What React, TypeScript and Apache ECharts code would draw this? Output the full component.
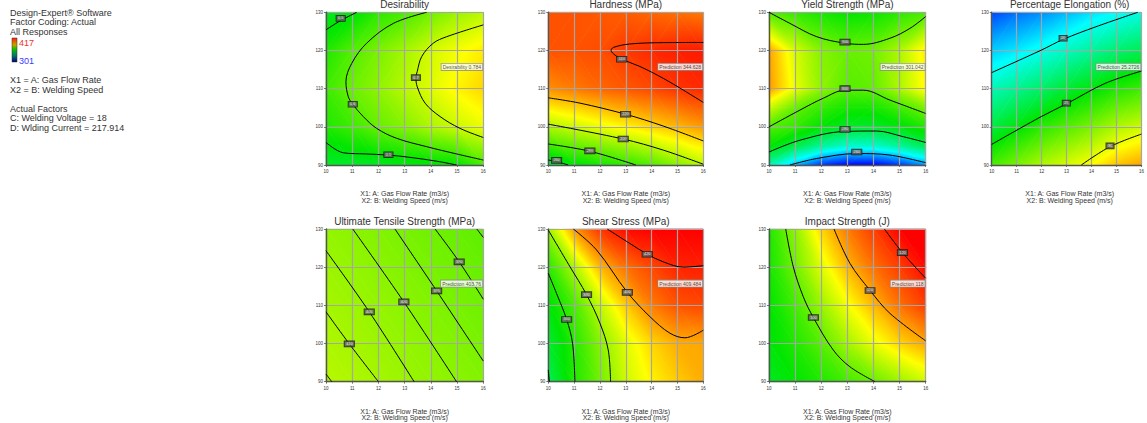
import React, { useEffect, useRef } from 'react';
import * as echarts from 'echarts';

const FONT = '"Liberation Sans", Arial, Helvetica, sans-serif';

// ---------- data ----------
const gridX = [10, 11, 12, 13, 14, 15, 16];
const gridY = [90, 100, 110, 120, 130];
const yieldGridY = [90, 95, 100, 105, 110, 120, 130];

const panelTitles = [
  'Desirability',
  'Hardness (MPa)',
  'Yield Strength (MPa)',
  'Percentage Elongation (%)',
  'Ultimate Tensile Strength (MPa)',
  'Shear Stress (MPa)',
  'Impact Strength (J)',
];
const predictionTexts = [
  'Desirability 0.784',
  'Prediction 344.628',
  'Prediction 301.042',
  'Prediction 25.2726',
  'Prediction 403.76',
  'Prediction 409.484',
  'Prediction 118',
];
const predictionAt = [16, 115.7];
const axisNames = ['X1: A: Gas Flow Rate (m3/s)', 'X2: B: Welding Speed (m/s)'];
const infoLines = [
  'Design-Expert\u00ae Software',
  'Factor Coding: Actual',
  'All Responses',
  'X1 = A: Gas Flow Rate',
  'X2 = B: Welding Speed',
  'Actual Factors',
  'C: Welding Voltage = 18',
  'D: Wlding Current = 217.914',
];
const legendHigh = '417';
const legendLow = '301';

// response surfaces, scaled to each panel's colour range (0 = low, 1 = high); rows from y = 90 upward
const desirabilityField = [
  [0.46, 0.46, 0.47, 0.48, 0.49, 0.5, 0.57],
  [0.53, 0.56, 0.6, 0.63, 0.67, 0.7, 0.73],
  [0.56, 0.605, 0.64, 0.68, 0.72, 0.76, 0.79],
  [0.53, 0.58, 0.62, 0.66, 0.705, 0.74, 0.77],
  [0.47, 0.49, 0.54, 0.57, 0.61, 0.65, 0.68],
];
const hardnessField = [
  [0.44, 0.49, 0.52, 0.545, 0.58, 0.63, 0.68],
  [0.67, 0.7, 0.73, 0.76, 0.79, 0.82, 0.85],
  [0.86, 0.88, 0.9, 0.915, 0.93, 0.95, 0.96],
  [0.92, 0.92, 0.925, 0.945, 0.96, 0.97, 0.975],
  [0.92, 0.92, 0.915, 0.91, 0.9, 0.89, 0.88],
];
const yieldField = [
  [0.33, 0.18, 0.05, 0, 0, 0.05, 0.15],
  [0.5, 0.43, 0.35, 0.3, 0.3, 0.35, 0.42],
  [0.58, 0.55, 0.5, 0.46, 0.46, 0.49, 0.53],
  [0.7, 0.6, 0.55, 0.52, 0.52, 0.56, 0.62],
  [0.85, 0.73, 0.64, 0.585, 0.595, 0.67, 0.76],
  [0.84, 0.71, 0.63, 0.6, 0.61, 0.67, 0.77],
  [0.58, 0.55, 0.52, 0.5, 0.51, 0.54, 0.57],
];
const elongationField = [
  [0.57, 0.62, 0.67, 0.71, 0.75, 0.81, 0.84],
  [0.44, 0.49, 0.54, 0.58, 0.62, 0.67, 0.7],
  [0.32, 0.36, 0.4, 0.45, 0.49, 0.53, 0.56],
  [0.2, 0.23, 0.27, 0.31, 0.35, 0.39, 0.42],
  [0.07, 0.11, 0.14, 0.18, 0.22, 0.25, 0.28],
];
const utsField = [
  [0.68, 0.671, 0.662, 0.653, 0.644, 0.636, 0.627],
  [0.671, 0.662, 0.653, 0.645, 0.636, 0.627, 0.618],
  [0.662, 0.653, 0.645, 0.636, 0.627, 0.618, 0.609],
  [0.654, 0.645, 0.636, 0.627, 0.618, 0.609, 0.6],
  [0.645, 0.636, 0.627, 0.618, 0.609, 0.6, 0.592],
];
const shearField = [
  [0.42, 0.53, 0.61, 0.7, 0.76, 0.8, 0.83],
  [0.45, 0.535, 0.63, 0.72, 0.79, 0.83, 0.835],
  [0.49, 0.57, 0.69, 0.8, 0.88, 0.92, 0.93],
  [0.54, 0.67, 0.82, 0.89, 0.93, 0.965, 0.97],
  [0.65, 0.85, 0.95, 0.99, 1.0, 1.0, 1.0],
];
const impactField = [
  [0.47, 0.5, 0.53, 0.565, 0.6, 0.65, 0.7],
  [0.49, 0.53, 0.585, 0.66, 0.73, 0.79, 0.835],
  [0.5, 0.565, 0.65, 0.74, 0.82, 0.89, 0.94],
  [0.52, 0.61, 0.72, 0.82, 0.89, 0.94, 0.99],
  [0.53, 0.64, 0.79, 0.88, 0.94, 1.0, 1.02],
];

// contour lines, [x1, x2] points
const desirabilityContours = [
  [[10, 125.4], [10.55, 127.8], [11.17, 130]],
  [[13.84, 130], [12.57, 127.1], [11.55, 121.9], [10.98, 116.6], [10.76, 111.8], [10.85, 107.9], [11.02, 105.9], [11.42, 102.7], [11.93, 99.6], [12.69, 97.0], [13.84, 94.8], [14.98, 92.9], [16, 91.3]],
  [[16, 126.7], [14.6, 123.6], [14.09, 121.9], [13.65, 118.4], [13.48, 114.5], [13.43, 112.9], [13.48, 110.5], [13.78, 106.2], [14.35, 102.7], [15.11, 99.6], [16, 97.2]],
  [[10, 95.9], [10.66, 93.2], [11.5, 92.9], [12.38, 92.6], [13.2, 92.0], [14.22, 91.0], [14.98, 90]],
];
const desirabilityLabels = [[10.56, 128.4, '0.5'], [11.02, 105.9, '0.6'], [13.43, 112.9, '0.7'], [12.38, 92.7, '0.5']];

const hardnessContours = [
  [[16, 122.1], [14.45, 122.05], [13.16, 121.7], [12.52, 120.8], [12.43, 120], [12.58, 118.8], [12.84, 117.7], [13.55, 115.8], [14.45, 112.7], [15.23, 109.6], [16, 106.4]],
  [[10, 107.6], [11.23, 106.2], [12.99, 103.3], [14.45, 100.2], [16, 96.3]],
  [[10, 100.7], [12.9, 96.8], [14.45, 93.9], [16, 90.2]],
  [[10, 95.5], [11.61, 93.6], [13.39, 90]],
  [[10, 91.3], [10.32, 90.9], [10.77, 90]],
];
const hardnessLabels = [[12.84, 117.7, '340'], [12.99, 103.3, '320'], [12.9, 96.8, '300'], [11.61, 93.7, '280'], [10.32, 91.2, '260']];

const yieldContours = [
  [[10, 130], [10.8, 127.1], [11.83, 123.6], [12.91, 121.9], [13.61, 121.6], [14.63, 123.2], [15.4, 125.8], [16, 128.9]],
  [[10, 100], [11.19, 104.4], [12.08, 107.5], [12.91, 109.6], [13.61, 109.6], [14.63, 107.0], [16, 103.5]],
  [[10, 93.4], [11.19, 96.5], [12.91, 98.8], [14.12, 98.9], [15.15, 97.4], [16, 95.9]],
  [[10.8, 90], [11.83, 91.7], [13.36, 93.0], [14.63, 92.6], [16, 90.6]],
];
const yieldLabels = [[12.91, 122.2, '300'], [12.91, 110.0, '300'], [12.91, 99.3, '280'], [13.36, 93.4, '260']];

const elongationContours = [
  [[10, 114.2], [11.99, 120.1], [12.86, 122.9], [14.17, 126.2], [15.85, 130]],
  [[10, 95.4], [11.99, 102.7], [12.99, 106.0], [14.55, 111.4], [16, 114.6]],
  [[13.59, 90], [14.74, 94.8], [16, 98.1]],
];
const elongationLabels = [[12.86, 123.2, '20'], [12.99, 106.2, '25'], [14.74, 95, '30']];

const utsContours = [
  [[10, 92], [10.22, 90]],
  [[10, 108.3], [10.89, 99.9], [12, 90]],
  [[10, 124.3], [11.65, 108.3], [13.36, 90]],
  [[11.02, 130], [12.97, 110.9], [14.98, 90]],
  [[12.63, 130], [14.22, 113.8], [16, 95.4]],
  [[14.16, 130], [15.08, 121.4], [16, 111.6]],
  [[15.75, 130], [16, 127.8]],
];
const utsLabels = [[10.89, 99.9, '410'], [11.65, 108.3, '405'], [12.97, 110.9, '400'], [14.22, 113.8, '395'], [15.08, 121.4, '390']];

const shearContours = [
  [[12.28, 130], [13.16, 126.2], [13.83, 123.4], [14.45, 121.4], [15.23, 120.0], [16, 120.4]],
  [[10.97, 130], [11.87, 124.5], [13.06, 113.4], [13.94, 107.0], [14.71, 102.7], [15.29, 101.5], [16, 103.5]],
  [[10, 129.7], [10.84, 120.1], [11.48, 112.8], [12, 105.3], [12.32, 98.3], [12.41, 90]],
  [[10, 118.4], [10.32, 113.1], [10.71, 106.3], [10.94, 100], [11.03, 90]],
  [[10, 93.1], [10.04, 90]],
];
const shearLabels = [[13.83, 123.4, '420'], [13.06, 113.4, '400'], [11.48, 112.8, '380'], [10.71, 106.3, '360']];

const impactContours = [
  [[10.64, 130], [10.93, 120.1], [11.31, 112.3], [11.7, 106.8], [12.46, 98.3], [13.1, 93.9], [14.06, 90]],
  [[12.49, 130], [13.1, 121], [13.87, 113.9], [14.63, 107.9], [16, 100.7]],
  [[14.42, 130], [15.11, 123.8], [16, 117.1]],
];
const impactLabels = [[11.7, 106.8, '100'], [13.87, 113.9, '110'], [15.11, 123.8, '120']];

const panelFields = [desirabilityField, hardnessField, yieldField, elongationField, utsField, shearField, impactField];
const panelGridY = [gridY, gridY, yieldGridY, gridY, gridY, gridY, gridY];
const panelContours = [desirabilityContours, hardnessContours, yieldContours, elongationContours, utsContours, shearContours, impactContours];
const panelLabels = [desirabilityLabels, hardnessLabels, yieldLabels, elongationLabels, utsLabels, shearLabels, impactLabels];

// ---------- layout ----------
const layout = [
  { left: 326, top: 12.3, width: 157.3, height: 152.7 },
  { left: 548.3, top: 12.3, width: 155, height: 152.7 },
  { left: 769, top: 12.3, width: 156.7, height: 152.7 },
  { left: 991.7, top: 12.3, width: 156, height: 152.7 },
  { left: 326, top: 229, width: 157.3, height: 152.7 },
  { left: 548.3, top: 229, width: 155, height: 152.7 },
  { left: 769, top: 229, width: 156.7, height: 152.7 },
];

// colour map (Design-Expert style)
const cmap: [number, number[]][] = [
  [0, [0, 0, 255]],
  [0.25, [0, 255, 255]],
  [0.5, [0, 230, 0]],
  [0.75, [255, 255, 0]],
  [1, [255, 0, 0]],
];
function colorAt(v: number) {
  const t = Math.max(0, Math.min(1, v));
  for (let k = 0; k < cmap.length - 1; k++) {
    const [a, ca] = cmap[k];
    const [b, cb] = cmap[k + 1];
    if (t <= b) {
      const f = (t - a) / (b - a);
      const c = ca.map((x, i) => Math.round(x + (cb[i] - x) * f));
      return `rgb(${c[0]},${c[1]},${c[2]})`;
    }
  }
  return 'rgb(255,0,0)';
}

function tri(a: number[], b: number[], c: number[], va: number, vb: number, vc: number) {
  const e1x = b[0] - a[0], e1y = b[1] - a[1], e2x = c[0] - a[0], e2y = c[1] - a[1];
  const d1 = vb - va, d2 = vc - va;
  const det = e1x * e2y - e1y * e2x;
  const vmin = Math.min(va, vb, vc), vmax = Math.max(va, vb, vc);
  let fill: any;
  if (Math.abs(det) < 1e-9 || vmax - vmin < 1e-6) {
    fill = colorAt((va + vb + vc) / 3);
  } else {
    const gx = (d1 * e2y - d2 * e1y) / det;
    const gy = (e1x * d2 - e2x * d1) / det;
    const g2 = gx * gx + gy * gy;
    const sx = a[0] + (gx * (vmin - va)) / g2, sy = a[1] + (gy * (vmin - va)) / g2;
    const ex = a[0] + (gx * (vmax - va)) / g2, ey = a[1] + (gy * (vmax - va)) / g2;
    const stops: any[] = [{ offset: 0, color: colorAt(vmin) }];
    for (const [k] of cmap) {
      if (k > vmin && k < vmax) stops.push({ offset: (k - vmin) / (vmax - vmin), color: colorAt(k) });
    }
    stops.push({ offset: 1, color: colorAt(vmax) });
    fill = new echarts.graphic.LinearGradient(sx, sy, ex, ey, stops, true);
  }
  return { type: 'polygon', shape: { points: [a, b, c] }, style: { fill, stroke: fill, lineWidth: 0.7 } };
}

function fieldSeries(idx: number, xs: number[], ys: number[], field: number[][]) {
  const data: number[][] = [];
  for (let j = 0; j < ys.length - 1; j++) {
    for (let i = 0; i < xs.length - 1; i++) {
      data.push([xs[i], ys[j], xs[i + 1], ys[j + 1], field[j][i], field[j][i + 1], field[j + 1][i], field[j + 1][i + 1]]);
    }
  }
  return {
    type: 'custom',
    xAxisIndex: idx,
    yAxisIndex: idx,
    z: 1,
    silent: true,
    encode: { x: [0, 2], y: [1, 3] },
    data,
    renderItem: (_p: any, api: any) => {
      const x0 = api.value(0), y0 = api.value(1), x1 = api.value(2), y1 = api.value(3);
      const v00 = api.value(4), v10 = api.value(5), v01 = api.value(6), v11 = api.value(7);
      const p00 = api.coord([x0, y0]), p10 = api.coord([x1, y0]), p01 = api.coord([x0, y1]), p11 = api.coord([x1, y1]);
      const children =
        Math.abs(v00 - v11) <= Math.abs(v10 - v01)
          ? [tri(p00, p10, p11, v00, v10, v11), tri(p00, p11, p01, v00, v11, v01)]
          : [tri(p00, p10, p01, v00, v10, v01), tri(p10, p11, p01, v10, v11, v01)];
      return { type: 'group', children };
    },
  };
}

function buildOption() {
  const series: any[] = [];
  layout.forEach((_, i) => {
    series.push(fieldSeries(i, gridX, panelGridY[i], panelFields[i]));
    panelContours[i].forEach((pts) => {
      series.push({
        type: 'line',
        xAxisIndex: i,
        yAxisIndex: i,
        data: pts,
        smooth: 0.35,
        symbol: 'none',
        silent: true,
        z: 4,
        lineStyle: { color: '#000', width: 1 },
      });
    });
    series.push({
      type: 'scatter',
      xAxisIndex: i,
      yAxisIndex: i,
      symbolSize: 0.1,
      silent: true,
      z: 5,
      itemStyle: { color: 'transparent' },
      data: panelLabels[i].map((l) => ({ value: [l[0], l[1]], label: { formatter: String(l[2]) } })),
      label: {
        show: true,
        position: 'inside',
        fontSize: 3.8,
        fontFamily: FONT,
        color: '#fff',
        backgroundColor: '#6a6a6a',
        borderColor: '#111',
        borderWidth: 0.8,
        padding: [0.6, 1.6, 0.4, 1.6],
      },
    });
    series.push({
      type: 'scatter',
      xAxisIndex: i,
      yAxisIndex: i,
      symbolSize: 0.1,
      silent: true,
      z: 5,
      itemStyle: { color: 'transparent' },
      data: [{ value: predictionAt }],
      label: {
        show: true,
        position: 'left',
        distance: 1,
        formatter: predictionTexts[i],
        fontSize: 5,
        fontFamily: FONT,
        color: '#222',
        backgroundColor: '#fff',
        borderColor: '#8a8a8a',
        borderWidth: 0.8,
        padding: [0.8, 1.2, 0.6, 1.2],
      },
    });
  });

  const graphic: any[] = [];
  layout.forEach((g, i) => {
    const cx = g.left + g.width / 2;
    const row2 = i >= 4;
    graphic.push({
      type: 'text',
      x: cx,
      y: row2 ? 221 : 4.3,
      style: { text: panelTitles[i], fontSize: 10, fontFamily: FONT, fill: '#333', align: 'center', verticalAlign: 'middle' },
    });
    graphic.push({
      type: 'text',
      x: cx,
      y: row2 ? 411 : 193.5,
      style: { text: axisNames[0], fontSize: 7, fontFamily: FONT, fill: '#333', align: 'center', verticalAlign: 'middle' },
    });
    graphic.push({
      type: 'text',
      x: cx,
      y: row2 ? 417.6 : 200.3,
      style: { text: axisNames[1], fontSize: 7, fontFamily: FONT, fill: '#333', align: 'center', verticalAlign: 'middle' },
    });
  });
  const infoY = [13.3, 22.3, 32.3, 80, 90, 109, 118.3, 127.7];
  infoLines.forEach((t, k) => {
    graphic.push({
      type: 'text',
      x: 10,
      y: infoY[k],
      style: { text: t, fontSize: 9, fontFamily: FONT, fill: '#333', align: 'left', verticalAlign: 'middle' },
    });
  });
  graphic.push({
    type: 'rect',
    shape: { x: 12, y: 38, width: 5, height: 24 },
    style: {
      fill: new echarts.graphic.LinearGradient(0, 0, 0, 1, [
        { offset: 0, color: '#ff2000' },
        { offset: 0.28, color: '#c8a000' },
        { offset: 0.5, color: '#00c000' },
        { offset: 0.75, color: '#007070' },
        { offset: 1, color: '#000070' },
      ]),
      stroke: '#333',
      lineWidth: 0.5,
    },
  });
  graphic.push({
    type: 'text',
    x: 19,
    y: 42.7,
    style: { text: legendHigh, fontSize: 9, fontFamily: FONT, fill: '#f03030', align: 'left', verticalAlign: 'middle' },
  });
  graphic.push({
    type: 'text',
    x: 19,
    y: 61,
    style: { text: legendLow, fontSize: 9, fontFamily: FONT, fill: '#3a3aff', align: 'left', verticalAlign: 'middle' },
  });

  const axisCommon = {
    type: 'value',
    z: 3,
    axisLine: { show: true, onZero: false, lineStyle: { color: '#555', width: 1.4 } },
    axisTick: { show: true, length: 2, lineStyle: { color: '#555', width: 0.8 } },
    splitLine: { show: true, lineStyle: { color: '#a6a6a6', width: 1.2 } },
  };

  return {
    animation: false,
    textStyle: { fontFamily: FONT },
    grid: layout.map((g) => ({ left: g.left, top: g.top, width: g.width, height: g.height, containLabel: false })),
    xAxis: layout.map((_, i) => ({
      ...axisCommon,
      gridIndex: i,
      min: 10,
      max: 16,
      interval: 1,
      axisLabel: { fontSize: 4.5, color: '#333', margin: 4, fontFamily: FONT },
    })),
    yAxis: layout.map((_, i) => ({
      ...axisCommon,
      gridIndex: i,
      min: 90,
      max: 130,
      interval: 10,
      axisLabel: { fontSize: 4.5, color: '#333', margin: 3, fontFamily: FONT },
    })),
    series,
    graphic,
  };
}

export default function App() {
  const ref = useRef<HTMLDivElement>(null);
  useEffect(() => {
    if (!ref.current) return;
    const chart = echarts.init(ref.current, null, { renderer: 'svg' });
    chart.setOption(buildOption() as any);
    return () => chart.dispose();
  }, []);
  return (
    <div
      ref={ref}
      style={{ position: 'fixed', left: 0, top: 0, width: 1147, height: 423, background: '#fff' }}
    />
  );
}
